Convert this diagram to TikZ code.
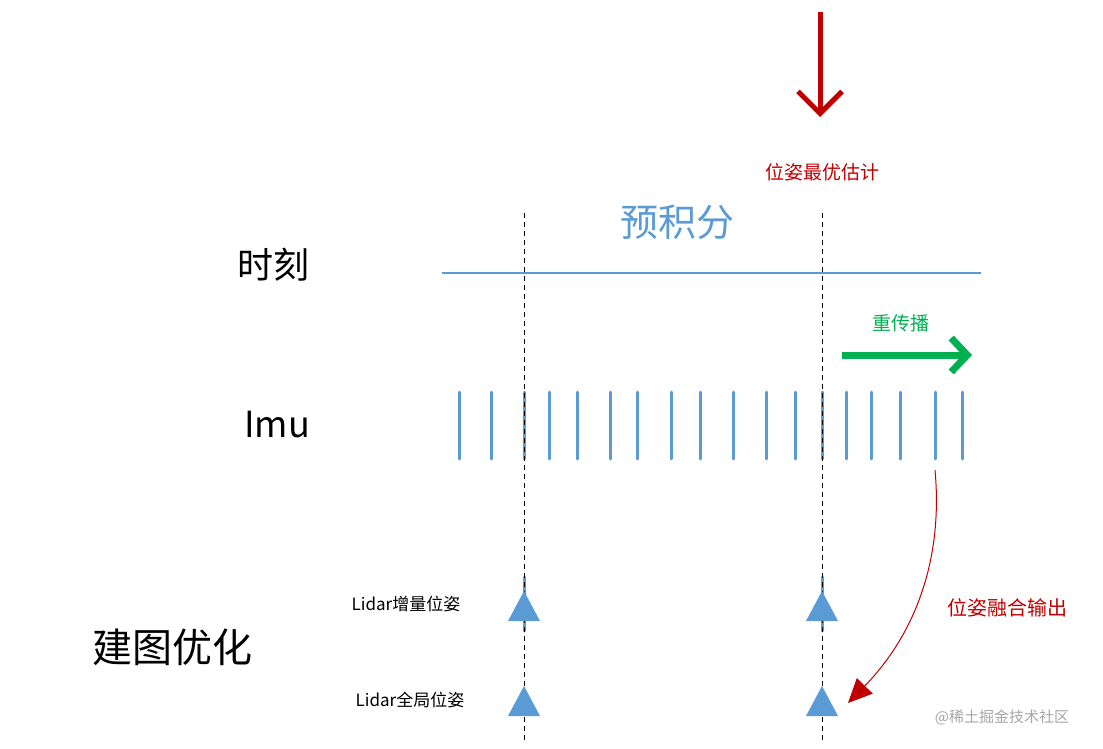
\documentclass[tikz,border=0pt]{standalone}
\usepackage{fontspec}
\setmainfont{Noto Sans CJK SC}
\usetikzlibrary{arrows.meta}
\definecolor{bl}{RGB}{91,155,213}
\definecolor{rd}{RGB}{192,0,0}
\definecolor{gr}{RGB}{0,176,80}
\tikzset{tick/.style={draw=bl,line width=3pt,line cap=round},
 tri/.style={fill=bl,draw=none},
 dash line/.style={dashed,line width=0.8pt,dash pattern=on 5pt off 4pt},
 fz/.style={font=\fontsize{#1}{#1}\selectfont}}
\begin{document}
\begin{tikzpicture}[x=1pt,y=-1pt]
\useasboundingbox (0,0) rectangle (1103,749);
% labels
\node[fz=36] (tk) at (273,265) {时刻};
\node[fz=36] (imu) at (277,425) {Imu};
\node[fz=40] (jt) at (172,647) {建图优化};
\node[fz=38,text=bl] (yjf) at (677,222) {预积分};
\node[fz=19,text=rd] (zy) at (822,172) {位姿最优估计};
\node[fz=19,text=gr] (ccb) at (901,323) {重传播};
\node[fz=20,text=rd] (rh) at (1007,608) {位姿融合输出};
\node[fz=17] (l1) at (406,604) {Lidar增量位姿};
\node[fz=17] (l2) at (410,700) {Lidar全局位姿};
\node[fz=15,text=gray!70] (wm) at (1002,717) {@稀土掘金技术社区};
% timeline
\coordinate (t0) at (442,273); \coordinate (t1) at (981,273);
\draw[bl,line width=2.5pt] (t0) -- (t1);
% ticks
\foreach \x in {459,491,524,549,577,610,637,671,700,733,766,795,822,846,871,900,935,962}
  \draw[tick] (\x,392) -- (\x,459);
\draw[tick] (524,577) -- (524,631);
\draw[tick] (822,577) -- (822,631);
% dashed
\foreach \x in {524,822} \draw[dash line] (\x,213) -- (\x,742);
% triangles
\foreach \x/\y in {524/621,822/621,524/716,822/716}
  \fill[tri] (\x-16,\y) -- (\x,\y-30) -- (\x+16,\y) -- cycle;
% red arrow top
\coordinate (a0) at (820,12); \coordinate (a1) at (820,117);
\draw[rd,line width=5pt,-{Straight Barb[length=22pt,width=44pt,line width=5pt]}] (a0) -- (a1);
% green arrow
\coordinate (g0) at (842,355); \coordinate (g1) at (972,355);
\draw[gr,line width=7pt,-{Straight Barb[length=16pt,width=34pt,line width=7pt]}] (g0) -- (g1);
% red curve
\coordinate (c0) at (935,470); \coordinate (c1) at (848,703);
\draw[rd,line width=1pt,-{Triangle[length=24pt,width=22pt]}] (c0) .. controls (945,580) and (900,650) .. (c1);
\end{tikzpicture}
\end{document}
